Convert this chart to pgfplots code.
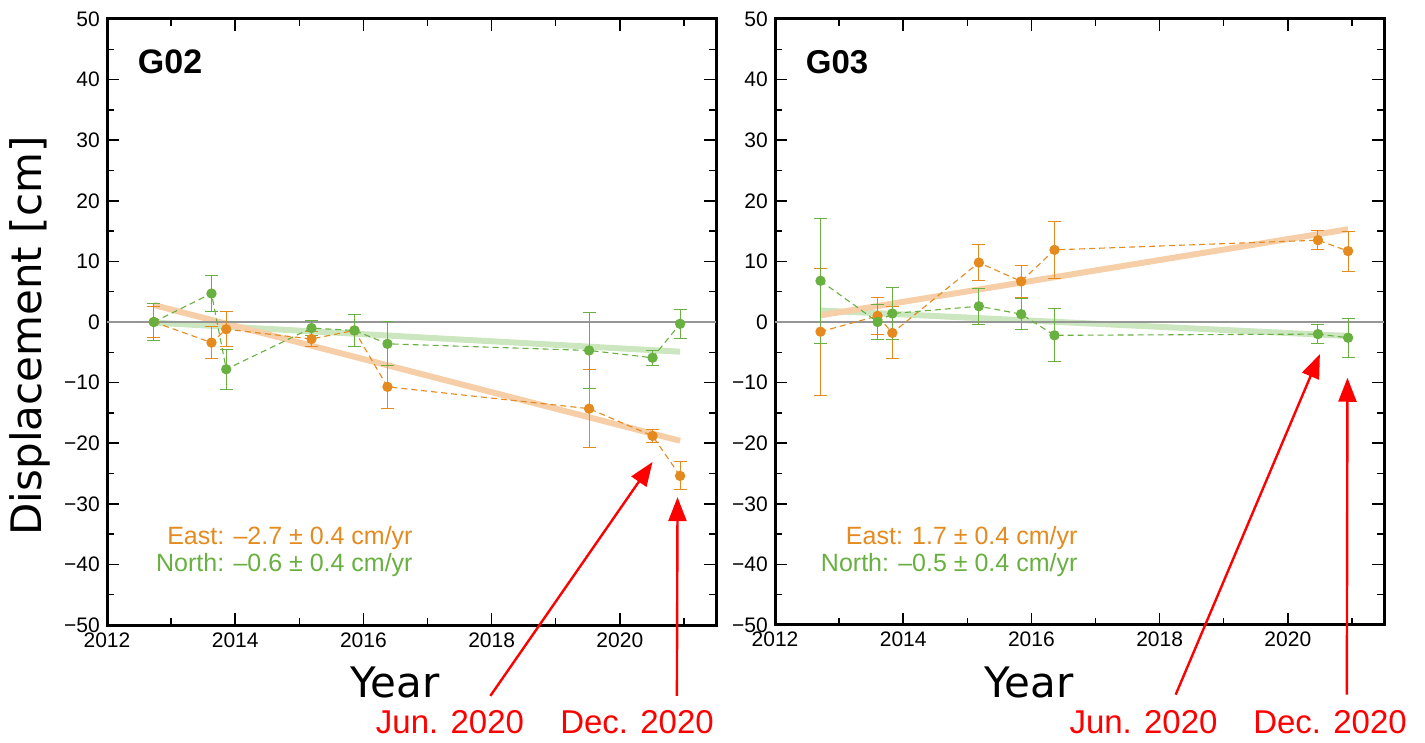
\documentclass[border=0pt]{standalone}
\usepackage{fontspec}
\setmainfont{Liberation Sans}
\newfontfamily\dejavu{DejaVu Sans}
\usepackage{pgfplots}
\pgfplotsset{compat=1.18}
\usepackage{pgfplotstable}
\usetikzlibrary{arrows.meta}
\definecolor{eastc}{RGB}{228,138,30}
\definecolor{northc}{RGB}{104,176,64}
\definecolor{eastt}{RGB}{246,206,168}
\definecolor{northt}{RGB}{204,230,192}
\definecolor{zeroc}{RGB}{150,150,150}

\pgfplotstableread{
x y e
2012.73 0.0 2.5
2013.63 -3.4 2.7
2013.86 -1.2 2.9
2015.19 -2.8 1.2
2015.86 -1.4 2.7
2016.375 -10.7 3.6
2019.52 -14.3 6.4
2020.51 -18.8 1.1
2020.94 -25.4 2.3
}\leftEast
\pgfplotstableread{
x y e
2012.73 0.0 3.0
2013.63 4.7 3.0
2013.86 -7.8 3.3
2015.19 -1.0 1.2
2015.86 -1.4 2.7
2016.375 -3.6 3.6
2019.52 -4.7 6.3
2020.51 -5.9 1.2
2020.94 -0.3 2.4
}\leftNorth
\pgfplotstableread{
x y e
2012.71 -1.6 10.5
2013.60 1.0 3.0
2013.83 -1.8 4.3
2015.18 9.8 3.0
2015.84 6.7 2.6
2016.36 11.9 4.7
2020.47 13.5 1.6
2020.94 11.7 3.3
}\rightEast
\pgfplotstableread{
x y e
2012.71 6.8 10.3
2013.60 0.0 2.9
2013.83 1.4 4.3
2015.18 2.6 3.0
2015.84 1.3 2.5
2016.36 -2.2 4.4
2020.47 -2.0 1.6
2020.94 -2.6 3.2
}\rightNorth

\pgfplotsset{
  panel/.style={
    scale only axis, width=609pt, height=606pt,
    anchor=south west,
    xmin=2012, xmax=2021.5, ymin=-50, ymax=50,
    xtick={2012,2014,2016,2018,2020},
    xticklabels={2012,2014,2016,2018,2020},
    minor xtick={2013,2015,2017,2019,2021},
    ytick={-50,-40,-30,-20,-10,0,10,20,30,40,50},
    yticklabels={−50,−40,−30,−20,−10,0,10,20,30,40,50},
    minor ytick={-45,-35,-25,-15,-5,5,15,25,35,45},
    tick align=inside,
    major tick length=12pt, minor tick length=7pt,
    every tick/.append style={black, line width=1.5pt},
    every minor tick/.append style={black, line width=1.5pt},
    axis line style={line width=3pt},
    tick label style={font=\fontsize{21}{21}\selectfont, black},
    xticklabel style={anchor=base, inner sep=0pt, yshift=-22pt},
    yticklabel style={anchor=east, inner sep=0pt, xshift=-7pt},
    clip=false,
  },
  eastpts/.style={eastc, dash pattern=on 6pt off 4pt, line width=1.1pt,
    mark=*, mark size=4.6pt, mark options={solid, draw=none, fill=eastc},
    error bars/.cd, y dir=both, y explicit,
    error bar style={solid, line width=1pt, eastc},
    error mark options={solid, rotate=90, mark size=6.5pt, line width=1pt, eastc}},
  northpts/.style={northc, dash pattern=on 6pt off 4pt, line width=1.1pt,
    mark=*, mark size=4.6pt, mark options={solid, draw=none, fill=northc},
    error bars/.cd, y dir=both, y explicit,
    error bar style={solid, line width=1pt, northc},
    error mark options={solid, rotate=90, mark size=6.5pt, line width=1pt, northc}},
}

\begin{document}
\begin{tikzpicture}[x=1pt,y=1pt]
\useasboundingbox (0,0) rectangle (1425,742);

% ---------- G02 ----------
\begin{axis}[panel, at={(107pt,117pt)}]
\addplot[northt, line width=6pt] coordinates {(2012.73,-0.1) (2020.94,-4.9)};
\addplot[eastt, line width=6pt] coordinates {(2012.73,2.8) (2020.94,-19.6)};
\addplot[zeroc, line width=1.5pt] coordinates {(2012,0) (2021.5,0)};
\addplot[eastpts] table[x=x, y=y, y error=e] {\leftEast};
\addplot[northpts] table[x=x, y=y, y error=e] {\leftNorth};
\node[anchor=west, inner sep=0pt, font=\fontsize{34}{34}\selectfont\bfseries] at (axis cs:2012.48,42.9) {G02};
\node[anchor=east, inner sep=0pt, text=eastc, font=\fontsize{25}{25}\selectfont] at (axis cs:2016.77,-35.6) {East: –2.7 ± 0.4 cm/yr};
\node[anchor=east, inner sep=0pt, text=northc, font=\fontsize{25}{25}\selectfont] at (axis cs:2016.77,-40.1) {North: –0.6 ± 0.4 cm/yr};
\draw[red, line width=2.4pt, -{Triangle[length=24pt,width=18pt]}] (axis cs:2017.98,-61.7) -- (axis cs:2020.51,-23.1);
\draw[red, line width=2.4pt, -{Triangle[length=24pt,width=18pt]}] (axis cs:2020.89,-61.7) -- (axis cs:2020.9,-28.9);
\end{axis}

% ---------- G03 ----------
\begin{axis}[panel, at={(775pt,117pt)}]
\addplot[northt, line width=6pt] coordinates {(2012.71,1.9) (2020.94,-2.3)};
\addplot[eastt, line width=6pt] coordinates {(2012.71,1.1) (2020.94,15.3)};
\addplot[zeroc, line width=1.5pt] coordinates {(2012,0) (2021.5,0)};
\addplot[eastpts] table[x=x, y=y, y error=e] {\rightEast};
\addplot[northpts] table[x=x, y=y, y error=e] {\rightNorth};
\node[anchor=west, inner sep=0pt, font=\fontsize{33}{33}\selectfont\bfseries] at (axis cs:2012.48,42.8) {G03};
\node[anchor=east, inner sep=0pt, text=eastc, font=\fontsize{25}{25}\selectfont] at (axis cs:2016.72,-35.6) {East: 1.7 ± 0.4 cm/yr};
\node[anchor=east, inner sep=0pt, text=northc, font=\fontsize{25}{25}\selectfont] at (axis cs:2016.72,-40.1) {North: –0.5 ± 0.4 cm/yr};
\draw[red, line width=2.4pt, -{Triangle[length=24pt,width=18pt]}] (axis cs:2018.25,-61.5) -- (axis cs:2020.5,-5.3);
\draw[red, line width=2.4pt, -{Triangle[length=24pt,width=18pt]}] (axis cs:2020.92,-61.5) -- (axis cs:2020.93,-9.2);
\end{axis}

% ---------- labels ----------
\node[rotate=90, anchor=base, inner sep=0pt, font=\dejavu\fontsize{42}{42}\selectfont] at (41,406) {Displacement [cm]};
\node[anchor=base, inner sep=0pt, font=\dejavu\fontsize{42}{42}\selectfont] at (395,45) {Year};
\node[anchor=base, inner sep=0pt, font=\dejavu\fontsize{42}{42}\selectfont] at (1029,45) {Year};
\node[anchor=base, inner sep=0pt, text=red, font=\fontsize{33}{33}\selectfont] at (450,9) {Jun. 2020};
\node[anchor=base, inner sep=0pt, text=red, font=\fontsize{33}{33}\selectfont] at (637,9) {Dec. 2020};
\node[anchor=base, inner sep=0pt, text=red, font=\fontsize{33}{33}\selectfont] at (1143.5,9) {Jun. 2020};
\node[anchor=base, inner sep=0pt, text=red, font=\fontsize{33}{33}\selectfont] at (1330,9) {Dec. 2020};
\end{tikzpicture}
\end{document}
